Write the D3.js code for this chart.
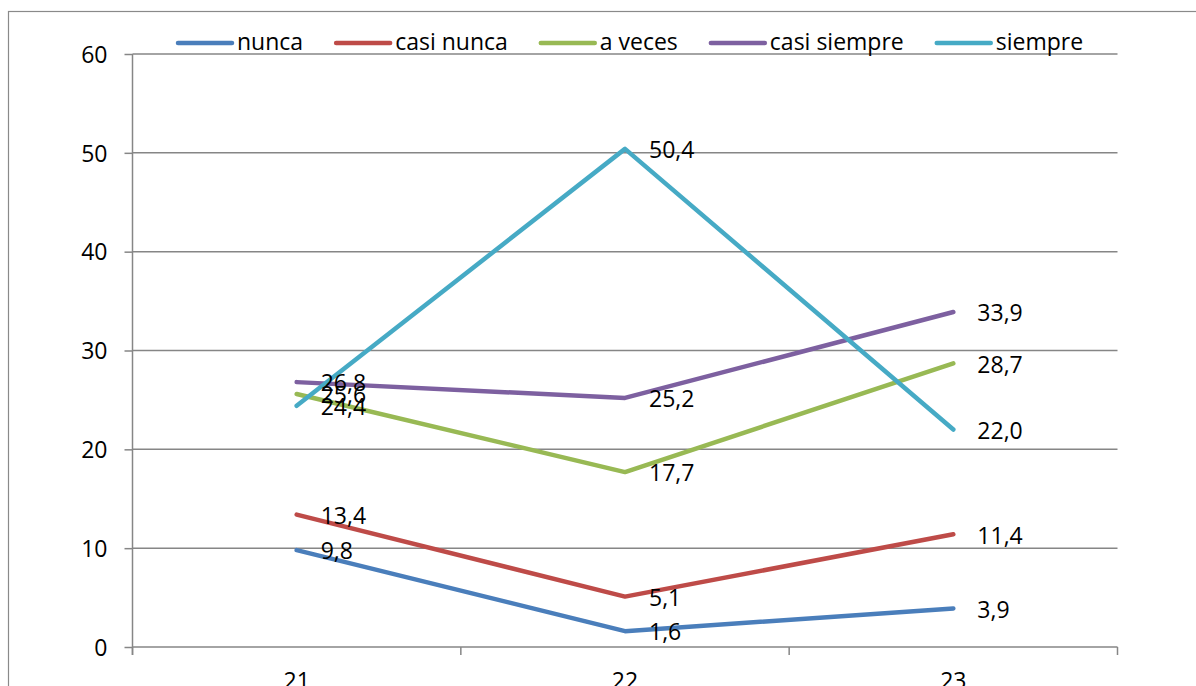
<!DOCTYPE html>
<html>
<head>
<meta charset="utf-8">
<script src="https://cdn.jsdelivr.net/npm/d3@7"></script>
<style>
  html, body { margin: 0; padding: 0; background: #fff; overflow: hidden; }
  svg { display: block; font-family: "Open Sans", sans-serif; }
</style>
</head>
<body>
<svg id="chart" width="1196" height="686"></svg>
<script>
// Categories on the x axis
const categories = ["21", "22", "23"];

// Series names and colours
const seriesNames = ["nunca", "casi nunca", "a veces", "casi siempre", "siempre"];
const seriesColors = ["#4A7EBB", "#BE4B48", "#98B954", "#7D60A0", "#46AAC5"];

// Percentages per series, one value per category
const nunca       = [9.8, 1.6, 3.9];
const casiNunca   = [13.4, 5.1, 11.4];
const aVeces      = [25.6, 17.7, 28.7];
const casiSiempre = [26.8, 25.2, 33.9];
const siempre     = [24.4, 50.4, 22.0];

// Y axis ticks
const yTicks = [0, 10, 20, 30, 40, 50, 60];

const seriesValues = [nunca, casiNunca, aVeces, casiSiempre, siempre];
const series = seriesNames.map((name, i) => ({
  name, color: seriesColors[i],
  values: seriesValues[i].map((v, j) => ({ cat: categories[j], v }))
}));

const svg = d3.select("#chart");
const axisColor = "#868686";
const fontSize = 23;

// Outer chart frame
svg.append("rect")
  .attr("x", 8.5).attr("y", 11.5)
  .attr("width", 1300).attr("height", 800)
  .attr("fill", "none").attr("stroke", "#8a8a8a").attr("stroke-width", 1.2);

const plot = { left: 132.5, right: 1117.5, top: 54, bottom: 647 };

const x = d3.scaleBand().domain(categories).range([plot.left, plot.right]).padding(0);
const y = d3.scaleLinear().domain([0, 60]).range([plot.bottom, plot.top]);

// Horizontal gridlines
svg.append("g")
  .selectAll("line")
  .data(yTicks.filter(t => t > 0))
  .join("line")
  .attr("x1", plot.left).attr("x2", plot.right)
  .attr("y1", d => y(d)).attr("y2", d => y(d))
  .attr("stroke", axisColor).attr("stroke-width", 1.5);

// Y axis
const yAxis = svg.append("g")
  .attr("transform", `translate(${plot.left},0)`)
  .call(d3.axisLeft(y).tickValues(yTicks).tickSize(8).tickPadding(17).tickFormat(d3.format("d")));
yAxis.select(".domain").attr("stroke", axisColor).attr("stroke-width", 1.5)
  .attr("d", `M0,${plot.top}V${plot.bottom + 8}`);
yAxis.selectAll(".tick line").attr("stroke", axisColor).attr("stroke-width", 1.5);
yAxis.selectAll(".tick text")
  .attr("fill", "#000").attr("font-size", fontSize)
  .attr("font-family", "'Open Sans', sans-serif").attr("dy", "0.36em");

// X axis: ticks at band boundaries, labels at band centres
const xAxis = svg.append("g")
  .attr("transform", `translate(0,${plot.bottom})`);
xAxis.append("line")
  .attr("x1", plot.left).attr("x2", plot.right)
  .attr("stroke", axisColor).attr("stroke-width", 1.5);
const boundaries = categories.map(c => x(c)).concat([x(categories[categories.length - 1]) + x.bandwidth()]);
xAxis.selectAll("line.tk")
  .data(boundaries)
  .join("line").attr("class", "tk")
  .attr("x1", d => d).attr("x2", d => d)
  .attr("y1", 0).attr("y2", 8)
  .attr("stroke", axisColor).attr("stroke-width", 1.5);
xAxis.selectAll("text")
  .data(categories)
  .join("text")
  .attr("x", d => x(d) + x.bandwidth() / 2)
  .attr("y", 42)
  .attr("text-anchor", "middle")
  .attr("font-size", fontSize)
  .attr("fill", "#000")
  .text(d => d);

// Series lines
const line = d3.line()
  .x(d => x(d.cat) + x.bandwidth() / 2)
  .y(d => y(d.v));

svg.append("g")
  .selectAll("path")
  .data(series)
  .join("path")
  .attr("d", d => line(d.values))
  .attr("fill", "none")
  .attr("stroke", d => d.color)
  .attr("stroke-width", 4.5)
  .attr("stroke-linecap", "round")
  .attr("stroke-linejoin", "round");

// Value labels
const fmt = v => d3.format(".1f")(v).replace(".", ",");
svg.append("g")
  .selectAll("g")
  .data(series)
  .join("g")
  .selectAll("text")
  .data(d => d.values)
  .join("text")
  .attr("x", d => x(d.cat) + x.bandwidth() / 2 + 24)
  .attr("y", d => y(d.v) + 1)
  .attr("dy", "0.36em")
  .attr("font-size", fontSize)
  .attr("fill", "#000")
  .text(d => fmt(d.v));

// Legend, laid out left to right from measured text widths
const legend = svg.append("g").attr("transform", "translate(0,43)");
let lx = 178;
series.forEach(s => {
  const g = legend.append("g");
  g.append("line")
    .attr("x1", lx).attr("x2", lx + 54)
    .attr("y1", 0).attr("y2", 0)
    .attr("stroke", s.color).attr("stroke-width", 4.5)
    .attr("stroke-linecap", "round");
  const t = g.append("text")
    .attr("x", lx + 59).attr("y", 0).attr("dy", "0.3em")
    .attr("font-size", fontSize).attr("fill", "#000")
    .text(s.name);
  lx += 59 + t.node().getComputedTextLength() + 33;
});
</script>
</body>
</html>
